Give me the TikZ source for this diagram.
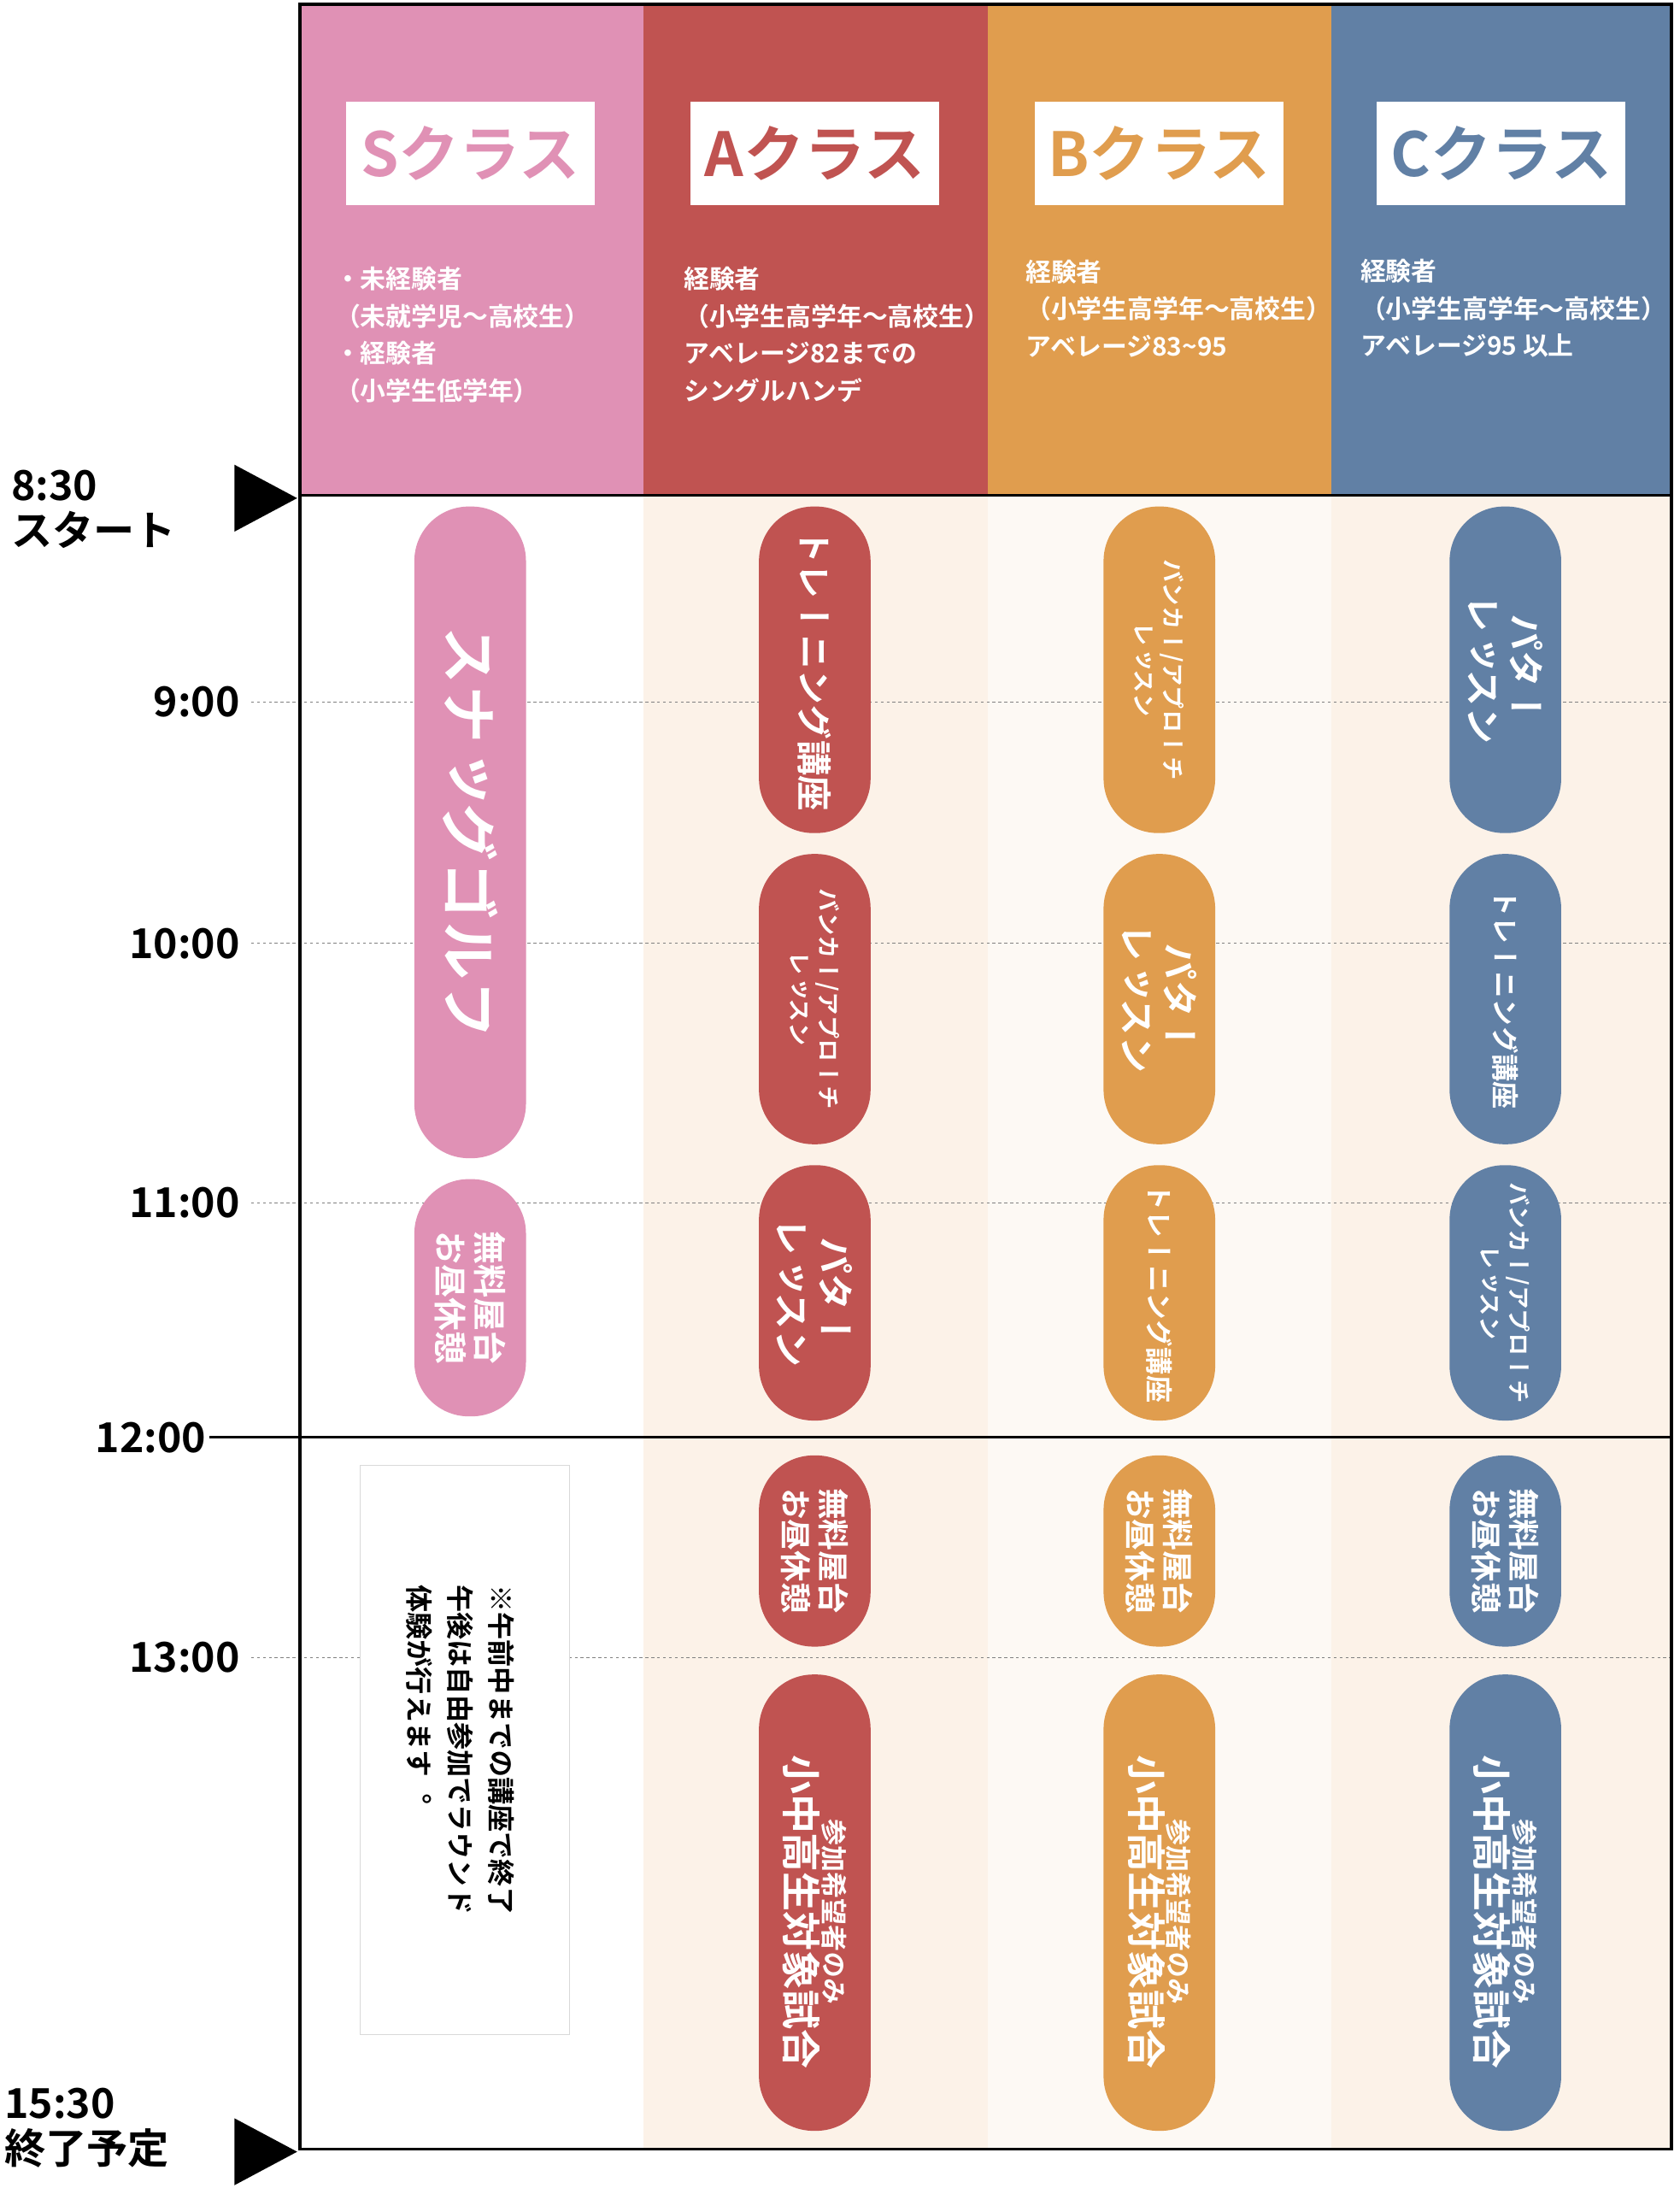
\documentclass[tikz,border=0pt]{standalone}
\usepackage{fontspec}
\newfontfamily\jp{Noto Sans CJK JP Bold}
\newfontfamily\vjp[Vertical=RotatedGlyphs,RawFeature=+vert]{Noto Sans CJK JP Bold}
\definecolor{cS}{HTML}{E091B5}
\definecolor{cA}{HTML}{C05351}
\definecolor{cB}{HTML}{E09D4E}
\definecolor{cC}{HTML}{6180A5}
\definecolor{cream}{HTML}{FCF2E8}
\begin{document}
\begin{tikzpicture}[x=0.05cm,y=-0.05cm,
  pill/.style={fill=#1,rounded corners=1.95cm,draw=none},
  vt/.style={rotate=-90,text=white,align=center,inner sep=0pt},
  hd/.style={anchor=west,text=white,inner sep=0pt,font=\jp\fontsize{26}{38}\selectfont,align=left},
  tm/.style={anchor=east,font=\jp\fontsize{42}{42}\selectfont,inner sep=0pt},
  dl/.style={dashed,gray,line width=0.6pt}]
\useasboundingbox (0,0) rectangle (1204,1568);
\fill[white] (0,0) rectangle (1204,1568);
% headers
\fill[cS] (215,3) rectangle (461,355);
\fill[cA] (461,3) rectangle (708,355);
\fill[cB] (708,3) rectangle (954,355);
\fill[cC] (954,3) rectangle (1198,355);
\fill[cream] (461,355) rectangle (708,1540);
\fill[cream] (954,355) rectangle (1198,1540);
\fill[cream!50] (708,355) rectangle (954,1540);
\foreach \x/\c/\t in {337/cS/S,584/cA/A,831/cB/B,1076/cC/C}{
  \node[fill=white,minimum width=8.9cm,minimum height=3.7cm,text=\c,font=\jp\fontsize{62}{62}\selectfont] (t\t) at (\x,110) {\t クラス};}
\node[hd] (dS) at (240,240) {・未経験者\\（未就学児～高校生）\\・経験者\\（小学生低学年）};
\node[hd] (dA) at (490,240) {経験者\\（小学生高学年～高校生）\\アベレージ82までの\\シングルハンデ};
\node[hd] (dB) at (735,221) {経験者\\（小学生高学年～高校生）\\アベレージ83\string~95};
\node[hd] (dC) at (975,221) {経験者\\（小学生高学年～高校生）\\アベレージ95 以上};
% lines
\foreach \y in {503,676,862,1188}{\draw[dl] (180,\y) -- (1198,\y);}
\draw[line width=3pt] (150,1030) -- (1198,1030);
\draw[line width=3pt] (215,355) -- (1198,355);
\draw[line width=3pt] (215,3) rectangle (1198,1540);
% time labels
\node[tm] (t9) at (172,503) {9:00};
\node[tm] (t10) at (172,676) {10:00};
\node[tm] (t11) at (172,862) {11:00};
\node[tm] (t12) at (148,1030) {12:00};
\node[tm] (t13) at (172,1188) {13:00};
\node[anchor=west,font=\jp\fontsize{42}{46}\selectfont,align=left,inner sep=0pt] (st) at (8,365) {8:30\\スタート};
\node[anchor=west,font=\jp\fontsize{42}{46}\selectfont,align=left,inner sep=0pt] (en) at (3,1525) {15:30\\終了予定};
\fill (168,333) -- (213,357) -- (168,381) -- cycle;
\fill (168,1518) -- (213,1542) -- (168,1566) -- cycle;
% pills
\newcommand\pl[7]{\fill[pill=#2] (#1-40,#3) rectangle (#1+40,#4);
  \node[vt,font=\vjp\fontsize{#5}{#6}\selectfont] at (#1,{(#3+#4)/2}) {#7};}
\pl{337}{cS}{363}{830}{60}{70}{スナッグゴルフ}
\pl{337}{cS}{845}{1015}{34}{40}{無料屋台\\お昼休憩}
\foreach \x/\c in {584/cA,831/cB,1079/cC}{\pl{\x}{\c}{1043}{1180}{32}{38}{無料屋台\\お昼休憩}
  \fill[pill=\c] (\x-40,1200) rectangle (\x+40,1527);
  \node[vt,font=\vjp] at (\x,1370) {\vjp\fontsize{27}{32}\selectfont 参加希望者のみ\\\vjp\fontsize{40}{46}\selectfont 小中高生対象試合};}
% A
\pl{584}{cA}{363}{597}{36}{42}{トレーニング講座}
\pl{584}{cA}{612}{820}{24}{30}{バンカー/アプローチ\\レッスン}
\pl{584}{cA}{835}{1018}{38}{44}{パター\\レッスン}
% B
\pl{831}{cB}{363}{597}{24}{30}{バンカー/アプローチ\\レッスン}
\pl{831}{cB}{612}{820}{38}{44}{パター\\レッスン}
\pl{831}{cB}{835}{1018}{28}{34}{トレーニング講座}
% C
\pl{1079}{cC}{363}{597}{38}{44}{パター\\レッスン}
\pl{1079}{cC}{612}{820}{28}{34}{トレーニング講座}
\pl{1079}{cC}{835}{1018}{24}{30}{バンカー/アプローチ\\レッスン}
% note
\node[draw=gray!30,fill=white,minimum width=7.5cm,minimum height=20.4cm] (nb) at (333,1254) {};
\node[rotate=-90,align=left,inner sep=0pt,font=\vjp\fontsize{28}{42}\selectfont] (nt) at (330,1254) {※午前中までの講座で終了\\午後は自由参加でラウンド\\体験が行えます。};
\end{tikzpicture}
\end{document}
